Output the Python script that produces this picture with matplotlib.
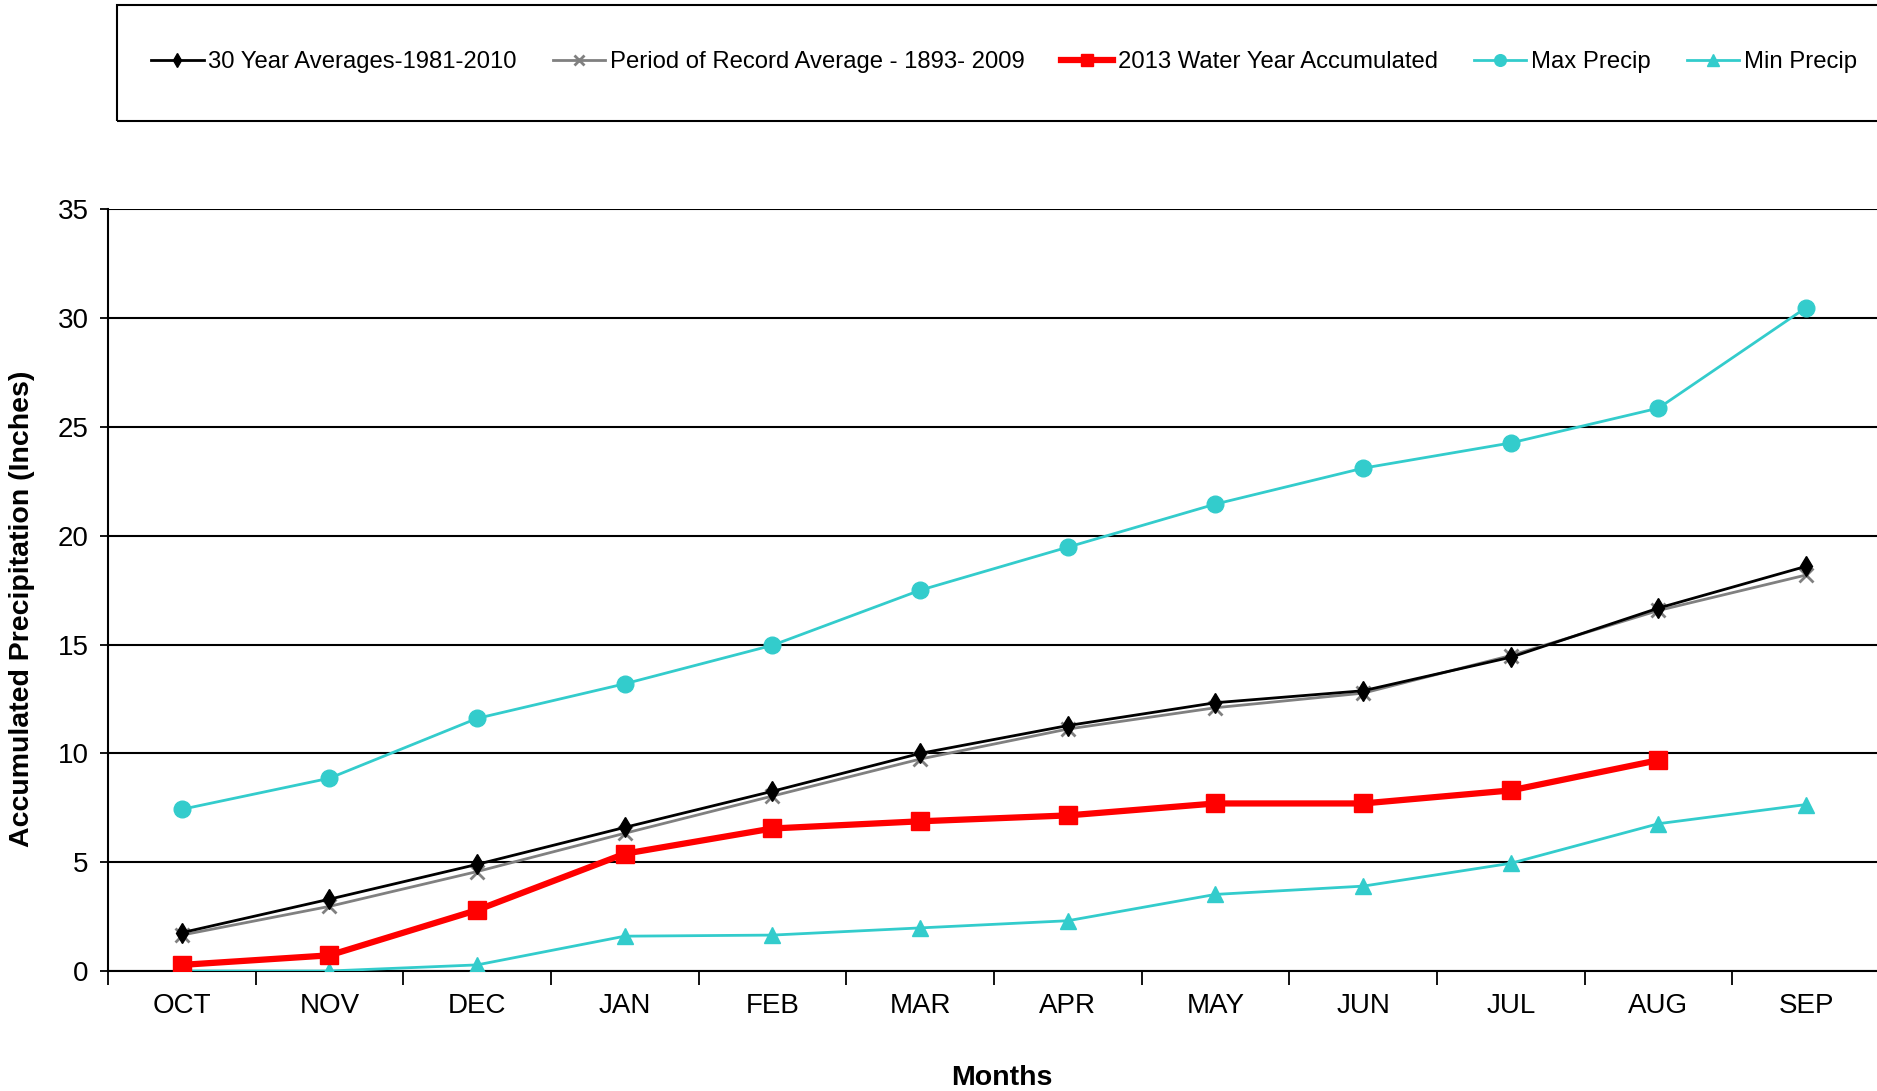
import matplotlib
matplotlib.use("Agg")
import matplotlib.pyplot as plt
from matplotlib.patches import Rectangle

# datos
meses = ['OCT', 'NOV', 'DEC', 'JAN', 'FEB', 'MAR', 'APR', 'MAY', 'JUN', 'JUL', 'AUG', 'SEP']
prom_30 = [1.76, 3.30, 4.90, 6.60, 8.26, 10.0, 11.28, 12.33, 12.88, 14.42, 16.68, 18.6]
prom_registro = [1.65, 2.97, 4.57, 6.33, 8.04, 9.74, 11.12, 12.10, 12.77, 14.50, 16.57, 18.2]
agua_2013 = [0.28, 0.72, 2.80, 5.39, 6.55, 6.88, 7.15, 7.70, 7.70, 8.30, 9.69]
max_precip = [7.43, 8.86, 11.61, 13.20, 14.97, 17.50, 19.48, 21.46, 23.11, 24.27, 25.87, 30.49]
min_precip = [0.0, 0.0, 0.28, 1.60, 1.65, 1.98, 2.31, 3.52, 3.90, 4.95, 6.77, 7.65]

plt.rcParams['font.family'] = ['Liberation Sans', 'DejaVu Sans']
CYAN = '#33CCCC'

fig = plt.figure(figsize=(18.77, 10.91), dpi=100)
ax = fig.add_axes([0.0575, 0.110, 0.9441, 0.698])

x = list(range(len(meses)))
l1, = ax.plot(x, prom_30, color='black', lw=2, marker='d', ms=10, zorder=4,
              label='30 Year Averages-1981-2010')
l2, = ax.plot(x, prom_registro, color='#808080', lw=2, marker='x', ms=10, mew=2, zorder=3,
              label='Period of Record Average - 1893- 2009')
l3, = ax.plot(x[:len(agua_2013)], agua_2013, color='#FF0000', lw=4.5, marker='s', ms=13, zorder=5,
              label='2013 Water Year Accumulated')
l4, = ax.plot(x, max_precip, color=CYAN, lw=2, marker='o', ms=12, zorder=3, label='Max Precip')
l5, = ax.plot(x, min_precip, color=CYAN, lw=2, marker='^', ms=12, zorder=3, label='Min Precip')

ax.set_xlim(-0.5, len(meses) - 0.5)
ax.set_ylim(0, 35)
ax.set_yticks(range(0, 36, 5))
ax.yaxis.grid(True, color='black', lw=1.5)
ax.set_axisbelow(True)

ax.set_xticks([i - 0.5 for i in range(len(meses) + 1)])
ax.set_xticklabels([])
ax.set_xticks(x, minor=True)
ax.set_xticklabels(meses, minor=True)
ax.tick_params(axis='x', which='major', length=10, width=1.3, direction='out')
ax.tick_params(axis='x', which='minor', length=0, labelsize=20, pad=16)
ax.tick_params(axis='y', length=6, width=1.3, labelsize=20, pad=8)

for lado in ['top', 'right']:
    ax.spines[lado].set_visible(False)
ax.spines['left'].set_linewidth(1.5)
ax.spines['bottom'].set_linewidth(1.5)

ax.set_ylabel('Accumulated Precipitation (Inches)', fontsize=20.5, fontweight='bold')
ax.yaxis.set_label_coords(-0.041, 0.476)
ax.set_xlabel('Months', fontsize=20.5, fontweight='bold')
ax.xaxis.set_label_coords(0.5044, -0.123)

# caja de la leyenda
fig.patches.append(Rectangle((0.0623, 0.889), 1.0, 0.106, transform=fig.transFigure,
                             fill=False, edgecolor='black', lw=1.5))
fig.legend(handles=[l1, l2, l3, l4, l5], loc='center', bbox_to_anchor=(0.535, 0.943),
           ncol=5, frameon=False, fontsize=17.2, handlelength=2.2, handletextpad=0.2,
           columnspacing=1.5, markerscale=0.7)

fig.savefig('out.png', dpi=100)
